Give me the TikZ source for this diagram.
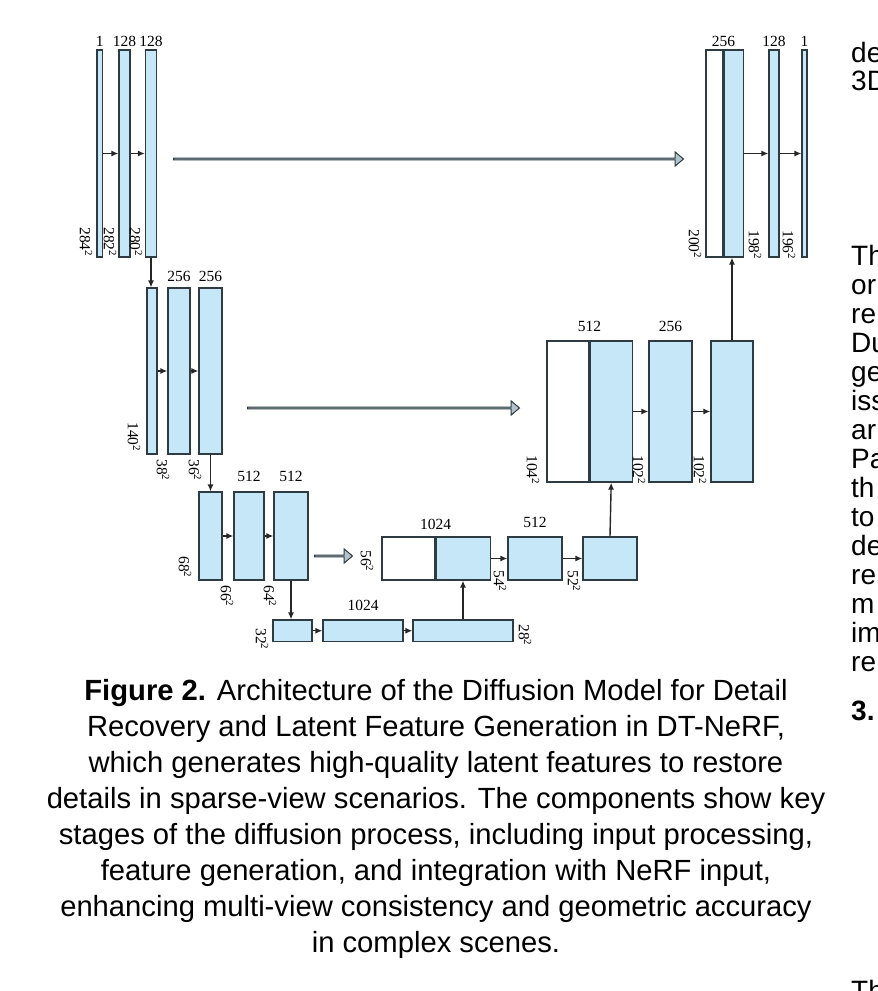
\documentclass[tikz,border=0pt]{standalone}
\usepackage{fontspec}
\setmainfont{Liberation Serif}
\newfontfamily\capfont{Liberation Sans}
\usetikzlibrary{arrows.meta,positioning,shapes.arrows}

\definecolor{featblue}{HTML}{C6E7F8}
\definecolor{edgegray}{HTML}{2E3B42}
\definecolor{skipgray}{HTML}{B4C3CB}

\begin{document}
\begin{tikzpicture}[x=1pt,y=-1pt,
		blk/.style={draw=edgegray, fill=featblue, line width=1.2pt, inner sep=0pt},
		cpy/.style={blk, fill=white},
		num/.style={font=\fontsize{15.5}{16}\selectfont, inner sep=0pt},
		dim/.style={font=\fontsize{15.5}{16}\selectfont, inner sep=0pt, rotate=-90},
		flow/.style={draw=black!85, line width=1.4pt, -{Latex[length=7pt,width=6pt]}},
		skip/.style={single arrow, draw=edgegray, fill=skipgray, line width=1pt, inner sep=0pt,
			minimum width=14pt, single arrow head extend=3.5pt, single arrow tip angle=80},
		col/.style={font=\capfont\fontsize{28}{29}\selectfont, anchor=base west, inner sep=0pt}]
		\useasboundingbox (0,0) rectangle (878,991);
		
		% encoder
		\node[blk, minimum width=5.5pt, minimum height=207pt] (a1) at (99.75,153.5) {};
		\node[blk, minimum width=11pt, minimum height=207pt] (a2) at (124.5,153.5) {};
		\node[blk, minimum width=11pt, minimum height=207pt] (a3) at (151,153.5) {};
		
		\node[blk, minimum width=10pt, minimum height=166pt] (b1) at (152,371) {};
		\node[blk, minimum width=22pt, minimum height=166pt] (b2) at (179,371) {};
		\node[blk, minimum width=23pt, minimum height=166pt] (b3) at (210.5,371) {};
		
		\node[blk, minimum width=23pt, minimum height=88pt] (c1) at (210.5,536) {};
		\node[blk, minimum width=30pt, minimum height=88pt] (c2) at (249,536) {};
		\node[blk, minimum width=34pt, minimum height=88pt] (c3) at (291,536) {};
		
		% bottleneck
		\node[blk, minimum width=39pt, minimum height=21.5pt] (d1) at (292.5,630.75) {};
		\node[blk, minimum width=80pt, minimum height=21.5pt] (d2) at (363,630.75) {};
		\node[blk, minimum width=100pt, minimum height=21.5pt] (d3) at (463,630.75) {};
		
		% decoder
		\node[cpy, minimum width=53pt, minimum height=43pt] (e1c) at (408.5,558.5) {};
		\node[blk, minimum width=54pt, minimum height=43pt, right=0pt of e1c] (e1) {};
		\node[blk, minimum width=54pt, minimum height=43pt] (e2) at (535,558.5) {};
		\node[blk, minimum width=54pt, minimum height=43pt] (e3) at (610,558.5) {};
		
		\node[cpy, minimum width=42pt, minimum height=141pt] (f1c) at (568,411.5) {};
		\node[blk, minimum width=42pt, minimum height=141pt, right=0pt of f1c] (f1) {};
		\node[blk, minimum width=43pt, minimum height=141pt] (f2) at (670.5,411.5) {};
		\node[blk, minimum width=42pt, minimum height=141pt] (f3) at (732,411.5) {};
		
		\node[cpy, minimum width=17pt, minimum height=207pt] (g1c) at (714.5,153.5) {};
		\node[blk, minimum width=19pt, minimum height=207pt, right=0pt of g1c] (g1) {};
		\node[blk, minimum width=10pt, minimum height=207pt] (g2) at (774,153.5) {};
		\node[blk, minimum width=5pt, minimum height=207pt] (g3) at (804.5,153.5) {};
		
		% channels
		\node[num, above=3pt of a1] (na1) {1};
		\node[num, above=3pt of a2] (na2) {128};
		\node[num, above=3pt of a3] (na3) {128};
		\node[num, above=6pt of b2] (nb2) {256};
		\node[num, above=6pt of b3] (nb3) {256};
		\node[num, above=10pt of c2] (nc2) {512};
		\node[num, above=10pt of c3] (nc3) {512};
		\node[num, above=9pt of d2] (nd2) {1024};
		\node[num, anchor=south] (ne1) at ([yshift=7pt]e1c.north east) {1024};
		\node[num, above=9pt of e2] (ne2) {512};
		\node[num, anchor=south] (nf1) at ([yshift=9pt]f1c.north east) {512};
		\node[num, above=9pt of f2] (nf2) {256};
		\node[num, anchor=south] (ng1) at ([yshift=3pt]g1c.north east) {256};
		\node[num, above=3pt of g2] (ng2) {128};
		\node[num, above=3pt of g3] (ng3) {1};
		
		% sizes
		\node[dim] (sa1) at (86,242) {284\textsuperscript{2}};
		\node[dim] (sa2) at (110,242) {282\textsuperscript{2}};
		\node[dim] (sa3) at (136,242) {280\textsuperscript{2}};
		\node[dim] (sb1) at (134,437) {140\textsuperscript{2}};
		\node[dim] (sb2) at (163,470) {38\textsuperscript{2}};
		\node[dim] (sb3) at (195,470) {36\textsuperscript{2}};
		\node[dim] (sc1) at (185,567) {68\textsuperscript{2}};
		\node[dim] (sc2) at (227,596) {66\textsuperscript{2}};
		\node[dim] (sc3) at (270,596) {64\textsuperscript{2}};
		\node[dim] (sd1) at (262,639) {32\textsuperscript{2}};
		\node[dim] (sd3) at (525,635) {28\textsuperscript{2}};
		\node[dim] (se1) at (367,561) {56\textsuperscript{2}};
		\node[dim] (se2) at (500,581) {54\textsuperscript{2}};
		\node[dim] (se3) at (574,581) {52\textsuperscript{2}};
		\node[dim] (sf1) at (533,470) {104\textsuperscript{2}};
		\node[dim] (sf2) at (639,470) {102\textsuperscript{2}};
		\node[dim] (sf3) at (700,470) {102\textsuperscript{2}};
		\node[dim] (sg1) at (695,244) {200\textsuperscript{2}};
		\node[dim] (sg2) at (755,245) {198\textsuperscript{2}};
		\node[dim] (sg3) at (789,245) {196\textsuperscript{2}};
		
		% convolutions
		\draw[flow] (a1) -- (a2);
		\draw[flow] (a2) -- (a3);
		\draw[flow] (b1) -- (b2);
		\draw[flow] (b2) -- (b3);
		\draw[flow] (c1) -- (c2);
		\draw[flow] (c2) -- (c3);
		\draw[flow] (d1) -- (d2);
		\draw[flow] (d2) -- (d3);
		\draw[flow] (e1) -- (e2);
		\draw[flow] (e2) -- (e3);
		\draw[flow] (f1) -- (f2);
		\draw[flow] (f2) -- (f3);
		\draw[flow] (g1) -- (g2);
		\draw[flow] (g2) -- (g3);
		
		% down and up
		\draw[flow] (a3.south) -- (a3.south |- b1.north);
		\draw[flow] (b3.south) -- (c1.north);
		\draw[flow] (c3.south) -- (c3.south |- d1.north);
		\draw[flow] (d3.north) -- (d3.north |- e1.south);
		\draw[flow] (e3.north) -- (f1.south);
		\draw[flow] (f3.north) -- (f3.north |- g1.south);
		
		% copy and crop
		\node[skip, minimum height=510pt] (k1) at (428,159) {};
		\node[skip, minimum height=272pt] (k2) at (383,408) {};
		\node[skip, minimum height=38pt] (k3) at (333,556) {};
		
		% caption
		\node[font=\capfont\fontsize{29.2}{36}\selectfont, align=center, anchor=north, inner sep=0pt] (cap) at (436,679)
		{\textbf{Figure 2.} Architecture of the Diffusion Model for Detail\\
			Recovery and Latent Feature Generation in DT-NeRF,\\
			which generates high-quality latent features to restore\\
			details in sparse-view scenarios. The components show key\\
			stages of the diffusion process, including input processing,\\
			feature generation, and integration with NeRF input,\\
			enhancing multi-view consistency and geometric accuracy\\
			in complex scenes.};
		
		% next column, cut at the page edge
		\begin{scope}
		\clip (0,0) rectangle (878,991);
		\node[col] (t1) at (851,62) {de};
		\node[col] (t2) at (851,90) {3D};
		\foreach \w [count=\i] in {Th,or,re,Du,ge,iss,ar,Pa,th,to,de,re,m,im,re}
		\node[col] (r\i) at (851,236+29*\i) {\w};
		\node[col, font=\capfont\bfseries\fontsize{28}{29}\selectfont] (sec) at (851,720) {3.};
		\node[col] (t3) at (851,1000) {Th};
		\end{scope}
\end{tikzpicture}
\end{document}
